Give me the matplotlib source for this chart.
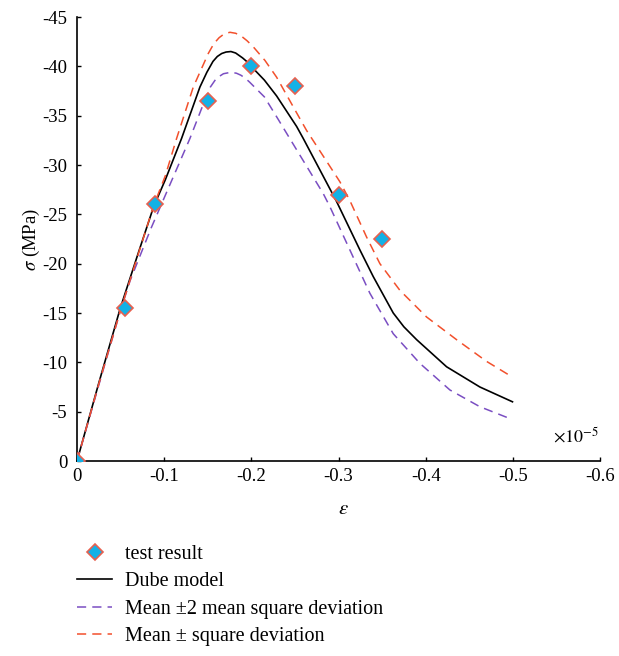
import matplotlib
matplotlib.use("Agg")
import matplotlib.pyplot as plt
from matplotlib.ticker import FuncFormatter

plt.rcParams['font.family'] = ['Liberation Serif', 'DejaVu Serif']
plt.rcParams['mathtext.fontset'] = 'stix'
plt.rcParams['axes.unicode_minus'] = False

# test points
test_strain = [0, -0.055, -0.09, -0.15, -0.2, -0.25, -0.3, -0.35]
test_stress = [0, -15.5, -26, -36.5, -40, -38, -27, -22.5]

# Dube model
dube_strain = [0, -0.025, -0.0497, -0.07, -0.088, -0.1013, -0.120, -0.141, -0.149, -0.156,
               -0.161, -0.166, -0.171, -0.1766, -0.182, -0.186, -0.190, -0.1946, -0.202,
               -0.215, -0.229, -0.252, -0.2595, -0.2978, -0.3245, -0.3398, -0.3628, -0.375,
               -0.3896, -0.424, -0.4622, -0.4996]
dube_stress = [0, -7.9, -15.5, -21.0, -25.8, -28.5, -32.7, -37.9, -39.4, -40.5,
               -41.0, -41.3, -41.45, -41.5, -41.35, -41.1, -40.85, -40.5, -39.8,
               -38.6, -37.0, -33.9, -32.7, -26.3, -21.4, -18.7, -15.0, -13.6,
               -12.3, -9.55, -7.5, -6.0]

# mean +/- 2 mean square deviation
dev2_strain = [0, -0.025, -0.0497, -0.061, -0.085, -0.109, -0.1296, -0.1468, -0.153, -0.160,
               -0.168, -0.1766, -0.183, -0.188, -0.193, -0.198, -0.215, -0.231, -0.244,
               -0.2825, -0.290, -0.313, -0.336, -0.3628, -0.3933, -0.4278, -0.4622, -0.4966]
dev2_stress = [0, -7.7, -15.2, -18.3, -23.6, -28.5, -32.7, -36.6, -37.9, -38.8,
               -39.25, -39.4, -39.3, -39.1, -38.8, -38.4, -36.9, -34.6, -32.7,
               -27.1, -25.8, -21.4, -17.0, -12.9, -9.9, -7.2, -5.5, -4.3]

# mean +/- square deviation
dev1_strain = [0, -0.025, -0.05, -0.088, -0.1013, -0.1143, -0.1334, -0.1506, -0.157, -0.163,
               -0.169, -0.1755, -0.182, -0.188, -0.195, -0.202, -0.2156, -0.229, -0.2557,
               -0.2634, -0.3016, -0.313, -0.3322, -0.3475, -0.3704, -0.401, -0.4354,
               -0.4698, -0.4996]
dev1_stress = [0, -7.8, -15.3, -25.9, -28.9, -32.7, -37.9, -41.3, -42.3, -42.9,
               -43.3, -43.45, -43.35, -43.1, -42.6, -42.0, -40.6, -38.9, -34.7,
               -33.5, -28.3, -26.4, -22.7, -20.0, -17.3, -14.6, -12.3,
               -10.1, -8.5]

fig = plt.figure(figsize=(6.19, 6.56), dpi=100)
ax = fig.add_axes([77/619, 195/656, 523/619, 444/656])

ax.plot(test_strain, test_stress, linestyle='none', marker='D', markersize=8.5,
        markerfacecolor='#13b1e6', markeredgecolor='#e8604f', markeredgewidth=1.2,
        label='test result', zorder=5)
ax.plot(dube_strain, dube_stress, color='black', linewidth=1.2, label='Dube model')
ax.plot(dev2_strain, dev2_stress, color='#7a4ec2', linewidth=1.1, dashes=(6, 4),
        label='Mean \u00b12 mean square deviation')
ax.plot(dev1_strain, dev1_stress, color='#f2502c', linewidth=1.1, dashes=(6, 4),
        label='Mean \u00b1 square deviation')

ax.set_xlim(0, -0.6)
ax.set_ylim(0, -45)
ax.set_xticks([0, -0.1, -0.2, -0.3, -0.4, -0.5, -0.6])
ax.set_yticks(range(0, -50, -5))
fmt = FuncFormatter(lambda v, p: '0' if v == 0 else f'{v:g}')
ax.xaxis.set_major_formatter(fmt)
ax.yaxis.set_major_formatter(fmt)
ax.tick_params(direction='in', length=3.2, width=1, labelsize=13.5)
ax.tick_params(axis='x', pad=5)
ax.tick_params(axis='y', pad=7)
ax.spines['top'].set_visible(False)
ax.spines['right'].set_visible(False)
ax.spines['left'].set_linewidth(1.2)
ax.spines['bottom'].set_linewidth(1.2)

ax.set_ylabel(r'$\sigma$ (MPa)', fontsize=13.5)
ax.yaxis.set_label_coords(-0.066, 0.5)
ax.set_xlabel(r'$\varepsilon$', fontsize=15)
ax.xaxis.set_label_coords(0.509, -0.088)
ax.text(0.998, 0.043, r'$\times10^{-5}$', transform=ax.transAxes, fontsize=13,
        ha='right', va='baseline')

fig.legend(loc='upper left', bbox_to_anchor=(77/619, 1 - 545/656), frameon=False,
           fontsize=14.5, handlelength=1.74, handletextpad=0.63, labelspacing=0.41,
           borderpad=0, borderaxespad=0)

fig.savefig('out.png', dpi=100)
